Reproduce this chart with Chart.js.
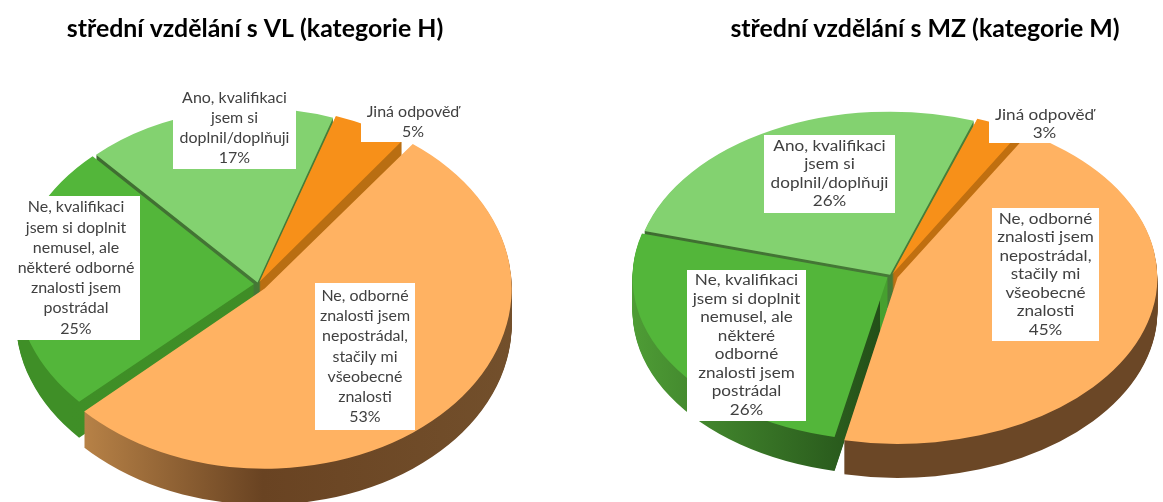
<!DOCTYPE html>
<html><head><meta charset="utf-8">
<style>
html,body{margin:0;padding:0;background:#fff;width:1163px;height:502px;overflow:hidden}
canvas{position:absolute;top:0}
#c1{left:0}#c2{left:580px}
</style>
<script src="https://cdn.jsdelivr.net/npm/chart.js@4"></script>
</head><body>
<canvas id="c1" width="580" height="502"></canvas>
<canvas id="c2" width="583" height="502"></canvas>
<script>
const titleH = "střední vzdělání s VL (kategorie H)";
const titleM = "střední vzdělání s MZ (kategorie M)";
const categoriesH = [
  ["Ne, odborné","znalosti jsem","nepostrádal,","stačily mi","všeobecné","znalosti"],
  ["Ne, kvalifikaci","jsem si doplnit","nemusel, ale","některé odborné","znalosti jsem","postrádal"],
  ["Ano, kvalifikaci","jsem si","doplnil/doplňuji"],
  ["Jiná odpověď"]
];
const categoriesM = [
  ["Ne, odborné","znalosti jsem","nepostrádal,","stačily mi","všeobecné","znalosti"],
  ["Ne, kvalifikaci","jsem si doplnit","nemusel, ale","některé","odborné","znalosti jsem","postrádal"],
  ["Ano, kvalifikaci","jsem si","doplnil/doplňuji"],
  ["Jiná odpověď"]
];
const valuesH = [53,25,17,5];
const valuesM = [45,26,26,3];
const topColors = ["#FFB262","#53B63A","#83D270","#F79019"];

function wallStops(stops,x0,x1,ctx){
  const g=ctx.createLinearGradient(x0,0,x1,0);
  stops.forEach(s=>g.addColorStop(s[0],s[1]));
  return g;
}
const pie3d={
  id:'pie3d',
  beforeDatasetDraw(chart,args,o){
    const ctx=chart.ctx, arcs=args.meta.data, cx=arcs[0].x, cy=arcs[0].y;
    const walls=o.walls.map(w=>wallStops(w,o.wallX[0],o.wallX[1],ctx));
    for(let d=o.depth;d>=1;d--){
      ctx.save();
      ctx.translate(cx,cy+d);ctx.scale(1,o.k);ctx.translate(-cx,-cy);
      arcs.forEach((a,i)=>{
        const keep=a.options;
        a.options=Object.assign({},keep,{backgroundColor:walls[i],borderWidth:0});
        a.draw(ctx);
        a.options=keep;
      });
      ctx.restore();
    }
    ctx.save();
    ctx.translate(cx,cy);ctx.scale(1,o.k);ctx.translate(-cx,-cy);
  },
  afterDatasetDraw(chart){chart.ctx.restore();},
  afterDraw(chart,args,o){
    const ctx=chart.ctx, ds=chart.data.datasets[0];
    ctx.save();
    ctx.textAlign='center';ctx.textBaseline='middle';
    o.boxes.forEach((b,i)=>{
      ctx.fillStyle='#fff';
      ctx.fillRect(b.x0,b.y0,b.x1-b.x0,b.y1-b.y0);
      const lines=[].concat(chart.data.labels[i],ds.data[i]+'%');
      const mid=(b.x0+b.x1)/2, h=o.lineH, start=(b.y0+b.y1)/2-(lines.length-1)*h/2;
      ctx.fillStyle='#404040';
      ctx.font=o.font;
      lines.forEach((t,j)=>{
        ctx.save();
        ctx.translate(mid,start+j*h);ctx.scale(o.stretch,1);
        ctx.fillText(t,0,0);
        ctx.restore();
      });
    });
    ctx.fillStyle='#000';
    ctx.font='bold 24.9px Lato';
    ctx.fillText(o.title,o.titleX,29);
    ctx.restore();
  }
};
function makePie(id,title,labels,values,cfg){
  const el=document.getElementById(id);
  new Chart(el,{
    type:'pie',
    data:{labels:labels,datasets:[{data:values,backgroundColor:topColors,borderWidth:0,
      radius:cfg.radius,rotation:cfg.rotation,offset:cfg.offsets,clip:false}]},
    options:{responsive:false,animation:false,events:[],
      layout:{padding:{top:Math.max(0,2*cfg.cy-el.height),bottom:Math.max(0,el.height-2*cfg.cy),
        left:Math.max(0,2*cfg.cx-el.width),right:Math.max(0,el.width-2*cfg.cx)}},
      plugins:{legend:{display:false},tooltip:{enabled:false},
        pie3d:{k:cfg.k,depth:cfg.depth,walls:cfg.walls,wallX:cfg.wallX,boxes:cfg.boxes,font:cfg.font,
          lineH:cfg.lineH,stretch:cfg.stretch,title:title,titleX:cfg.titleX}}},
    plugins:[pie3d]
  });
}
makePie('c1',titleH,categoriesH,valuesH,{
  cx:258,cy:284,k:0.73,radius:238,rotation:36.5,offsets:[36,16,8,12],depth:36,
  wallX:[70,513],
  walls:[[[0,'#BA8448'],[0.42,'#694322'],[1,'#73502C']],
         [[0,'#3F8F27'],[1,'#3F8A25']],
         [[0,'#3E6B30'],[1,'#4E8A3E']],
         [[0,'#B96E12'],[1,'#B96E12']]],
  boxes:[{x0:315,x1:415,y0:283,y1:430},{x0:12,x1:140,y0:196,y1:340},{x0:173,x1:296,y0:87,y1:169},{x0:361,x1:465,y0:102,y1:142}],
  font:'15.5px Lato',lineH:20.2,stretch:1.03,titleX:255
});
makePie('c2',titleM,categoriesM,valuesM,{
  cx:311,cy:276,k:0.64,radius:255,rotation:30,offsets:[28,16,8,12],depth:34,
  wallX:[50,580],
  walls:[[[0,'#6B4726'],[1,'#6B4726']],
         [[0,'#4F9E36'],[0.478,'#234F18'],[0.479,'#46A02F'],[1,'#46A02F']],
         [[0,'#3E6B30'],[1,'#4E8A3E']],
         [[0,'#C06F10'],[1,'#C06F10']]],
  boxes:[{x0:412,x1:519,y0:208,y1:341},{x0:107,x1:226,y0:270,y1:421},{x0:184,x1:315,y0:135,y1:213},{x0:409,x1:520,y0:106,y1:143}],
  font:'14.5px Lato',lineH:18.5,stretch:1.18,titleX:345
});
</script>
</body></html>
